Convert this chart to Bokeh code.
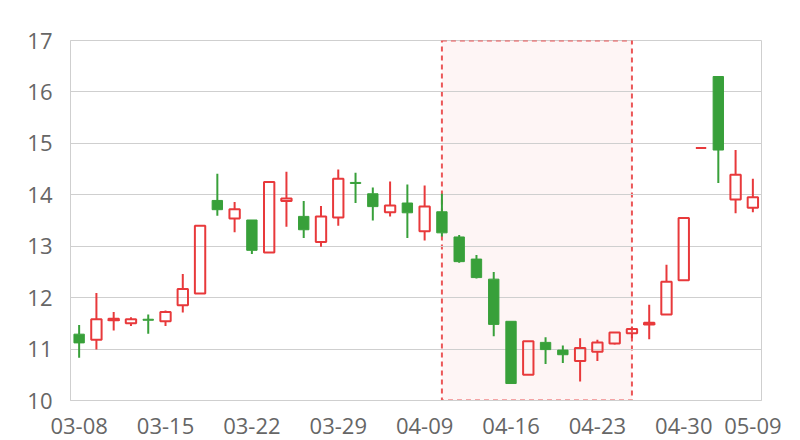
from bokeh.plotting import figure
from bokeh.models import FixedTicker, Range1d, ColumnDataSource
from bokeh.embed import file_html
from bokeh.resources import INLINE

dates = ["03-08", "03-09", "03-10", "03-11", "03-12", "03-15", "03-16", "03-17", "03-18", "03-19",
         "03-22", "03-23", "03-24", "03-25", "03-26", "03-29", "03-30", "03-31", "04-01", "04-02",
         "04-09", "04-12", "04-13", "04-14", "04-15", "04-16", "04-19", "04-20", "04-21", "04-22",
         "04-23", "04-26", "04-27", "04-28", "04-29", "04-30", "05-06", "05-07", "05-08", "05-09"]
open_ = [11.29, 11.18, 11.56, 11.50, 11.58, 11.54, 11.85, 12.08, 13.89, 13.54,
         13.51, 12.88, 13.88, 13.58, 13.08, 13.56, 14.24, 14.02, 13.66, 13.84,
         13.29, 13.67, 13.18, 12.75, 12.36, 11.54, 10.50, 11.13, 10.98, 10.77,
         10.95, 11.11, 11.31, 11.48, 11.67, 12.34, 14.91, 16.30, 13.91, 13.75]
close = [11.12, 11.58, 11.59, 11.58, 11.56, 11.72, 12.17, 13.40, 13.71, 13.72,
         12.92, 14.25, 13.93, 13.32, 13.58, 14.31, 14.22, 13.77, 13.79, 13.65,
         13.77, 13.26, 12.70, 12.39, 11.48, 10.33, 11.15, 10.99, 10.89, 11.02,
         11.13, 11.32, 11.39, 11.51, 12.31, 13.55, 14.91, 14.87, 14.39, 13.95]
high = [11.47, 12.09, 11.72, 11.62, 11.67, 11.75, 12.46, 13.40, 14.41, 13.86,
        13.51, 14.25, 14.45, 13.88, 13.78, 14.49, 14.43, 14.14, 14.26, 14.20,
        14.18, 14.02, 13.22, 12.83, 12.50, 11.54, 11.15, 11.23, 11.07, 11.21,
        11.18, 11.32, 11.44, 11.86, 12.64, 13.55, 14.91, 16.30, 14.87, 14.31]
low = [10.83, 10.99, 11.36, 11.45, 11.30, 11.45, 11.71, 12.08, 13.59, 13.27,
       12.85, 12.88, 13.38, 13.16, 12.99, 13.40, 13.84, 13.50, 13.58, 13.16,
       13.11, 13.19, 12.68, 12.37, 11.25, 10.33, 10.50, 10.71, 10.73, 10.37,
       10.77, 11.09, 11.21, 11.19, 11.67, 12.34, 14.91, 14.23, 13.64, 13.66]
label_dates = ["03-08", "03-15", "03-22", "03-29", "04-09", "04-16", "04-23", "04-30", "05-09"]
y_ticks = [10, 11, 12, 13, 14, 15, 16, 17]
highlight = ("04-12", "04-27")

RED = "#e8393b"
GREEN = "#38a03a"
TXT = "#666666"
GRID = "#cfcfcf"

idx = list(range(len(dates)))
up = [c >= o for o, c in zip(open_, close)]

def sel(flag):
    d = dict(x=[], top=[], bottom=[], hi=[], lo=[])
    for i in idx:
        if up[i] == flag:
            t = max(open_[i], close[i]); b = min(open_[i], close[i])
            d["x"].append(i); d["top"].append(t); d["bottom"].append(b)
            d["hi"].append(high[i]); d["lo"].append(low[i])
    return ColumnDataSource(d)

src_up = sel(True)
src_dn = sel(False)

p = figure(width=800, height=440, output_backend="svg", toolbar_location=None,
           x_range=Range1d(-0.5, len(dates) - 0.5),
           y_range=Range1d(y_ticks[0], y_ticks[-1]),
           min_border_left=70, min_border_right=39, min_border_top=40, min_border_bottom=40)

# highlight area
a0 = dates.index(highlight[0]); a1 = dates.index(highlight[1])
p.quad(left=[a0], right=[a1], top=[y_ticks[-1]], bottom=[y_ticks[0]],
       fill_color=RED, fill_alpha=0.05, line_color=RED, line_alpha=0.85,
       line_dash="5 4", line_width=2, level="image")

# wicks
for src, col in ((src_up, RED), (src_dn, GREEN)):
    p.segment(x0="x", x1="x", y0="hi", y1="top", source=src, line_color=col, line_width=2)
    p.segment(x0="x", x1="x", y0="bottom", y1="lo", source=src, line_color=col, line_width=2)

p.vbar(x="x", top="top", bottom="bottom", width=0.6, source=src_up,
       fill_color="white", fill_alpha=0, line_color=RED, line_width=2)
p.vbar(x="x", top="top", bottom="bottom", width=0.6, source=src_dn,
       fill_color=GREEN, line_color=GREEN, line_width=1)

p.xaxis.ticker = FixedTicker(ticks=[dates.index(d) for d in label_dates])
p.xaxis.major_label_overrides = {dates.index(d): d for d in label_dates}
p.yaxis.ticker = FixedTicker(ticks=y_ticks)

for ax in (p.xaxis, p.yaxis):
    ax.major_tick_line_color = None
    ax.minor_tick_line_color = None
    ax.axis_line_color = GRID
    ax.major_label_text_font = "Open Sans"
    ax.major_label_text_font_size = "22px"
    ax.major_label_text_color = TXT
p.xaxis.major_label_standoff = 11
p.yaxis.major_label_standoff = 12

p.xgrid.grid_line_color = None
p.ygrid.grid_line_color = GRID
p.outline_line_color = GRID

open("out.html", "w").write(file_html(p, INLINE))
